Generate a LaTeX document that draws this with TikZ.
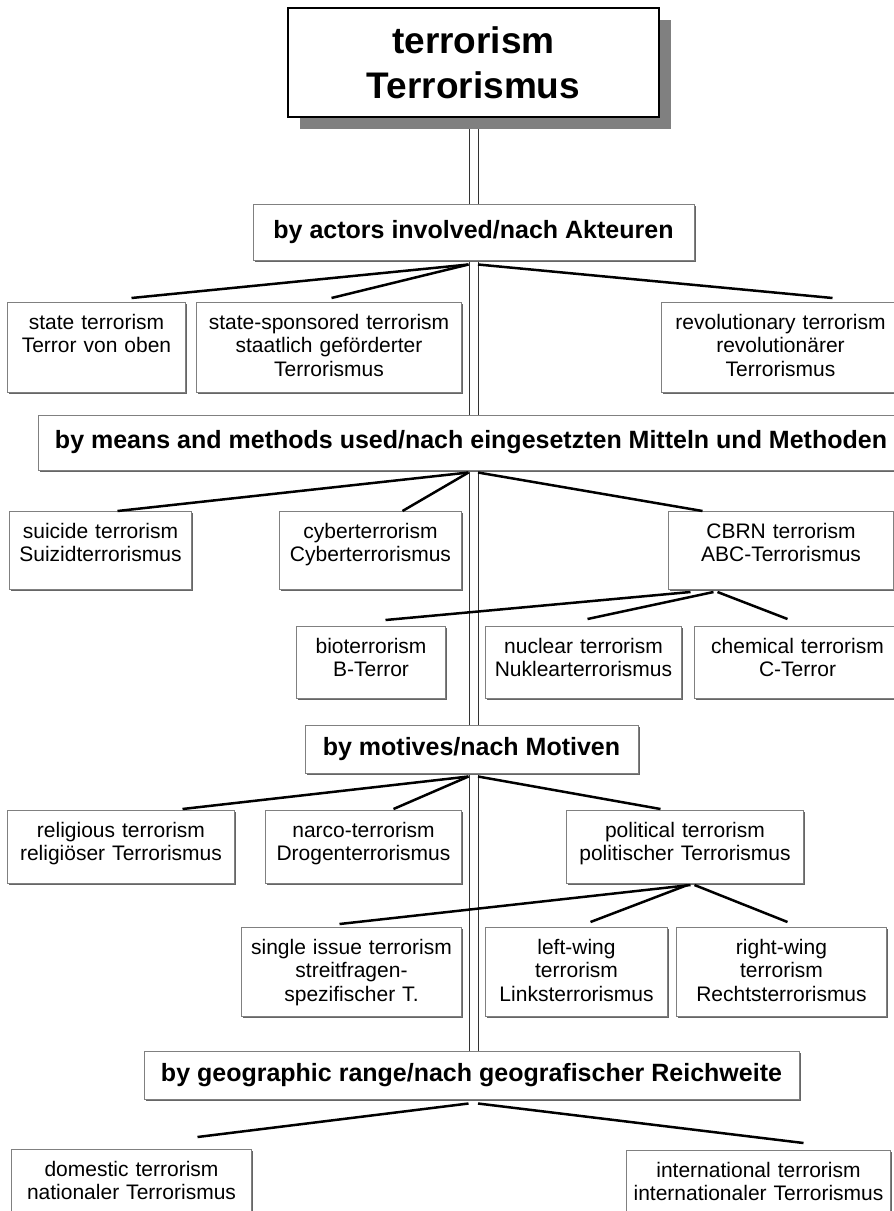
\documentclass[tikz,border=0pt]{standalone}
\usepackage{fontspec}
\setmainfont{Liberation Sans}
\usetikzlibrary{shadows,backgrounds,calc}
\newcommand{\leaffont}{\fontsize{21}{23.3}\selectfont}
\newcommand{\headfont}{\fontsize{25}{30}\selectfont\bfseries}
\newcommand{\rootfont}{\fontsize{37}{45}\selectfont\bfseries}

\begin{document}
\begin{tikzpicture}[x=1pt, y=-1pt,
      box/.style={draw=black!50, line width=1pt, fill=white,
        drop shadow={shadow xshift=1.5pt, shadow yshift=-1.5pt, fill=black!60, opacity=1}},
      head/.style={box, font=\headfont, inner sep=0pt},
      leaf/.style 2 args={box, font=\leaffont, anchor=north west, align=center, inner sep=0pt,
        text width=#1, minimum width=#1, text height=27pt, text depth=#2},
      link/.style={line width=2.5pt},
      spine/.style={draw=black!80, line width=1pt, double distance=8pt}]
    \tikzstyle{rootbox} = [draw=black, line width=2.5pt, fill=white, font=\rootfont, align=center,
      minimum width=371pt, minimum height=109pt,
      drop shadow={shadow xshift=12pt, shadow yshift=-12pt, fill=black!50, opacity=1}]
    \useasboundingbox (0,0) rectangle (894,1211);

    \node (root) [rootbox] at (473.5,62.5) {terrorism\\Terrorismus};
    \coordinate (spL) at ([xshift=-5pt]root.south);
    \coordinate (spR) at ([xshift=4.5pt]root.south);

    % by actors
    \node (actors) [head, minimum width=441pt, minimum height=56pt] at (473.5,232) {by actors involved/nach Akteuren};
    \node (st)  [leaf={178pt}{63pt}] at (7,302)   {state terrorism\\Terror von oben};
    \node (ss)  [leaf={265pt}{63pt}] at (196,302) {state-sponsored terrorism\\staatlich gef\"orderter\\Terrorismus};
    \node (rev) [leaf={238pt}{63pt}] at (661,302) {revolutionary terrorism\\revolution\"arer\\Terrorismus};

    % by means and methods
    \node (means) [head, minimum width=866pt, minimum height=55pt] at (471,442.5) {by means and methods used/nach eingesetzten Mitteln und Methoden};
    \node (sui)  [leaf={182pt}{51pt}] at (9,511)   {suicide terrorism\\Suizidterrorismus};
    \node (cyb)  [leaf={182pt}{51pt}] at (279,511) {cyberterrorism\\Cyberterrorismus};
    \node (cbrn) [leaf={225pt}{51pt}] at (668,511) {CBRN terrorism\\ABC-Terrorismus};
    \node (bio)  [leaf={149pt}{45pt}] at (296,626) {bioterrorism\\B-Terror};
    \node (nuc)  [leaf={196pt}{45pt}] at (485,626) {nuclear terrorism\\Nuklearterrorismus};
    \node (chem) [leaf={206pt}{45pt}] at (694,626) {chemical terrorism\\C-Terror};

    % by motives
    \node (motives) [head, minimum width=333pt, minimum height=48pt] at (471.5,749) {by motives/nach Motiven};
    \node (rel) [leaf={227pt}{46pt}] at (7,810)   {religious terrorism\\religi\"oser Terrorismus};
    \node (nar) [leaf={196pt}{46pt}] at (265,810) {narco-terrorism\\Drogenterrorismus};
    \node (pol) [leaf={237pt}{46pt}] at (566,810) {political terrorism\\politischer Terrorismus};
    \node (sin) [leaf={220pt}{62pt}] at (241,927) {single issue terrorism\\streitfragen-\\spezifischer T.};
    \node (lw)  [leaf={182pt}{62pt}] at (485,927) {left-wing\\terrorism\\Linksterrorismus};
    \node (rw)  [leaf={210pt}{62pt}] at (676,927) {right-wing\\terrorism\\Rechtsterrorismus};

    % by geographic range
    \node (geo) [head, minimum width=655pt, minimum height=48pt] at (471.5,1075) {by geographic range/nach geografischer Reichweite};
    \node (dom) [leaf={240pt}{53pt}] at (11,1149)  {domestic terrorism\\nationaler Terrorismus};
    \node (int) [leaf={264pt}{53pt}] at (626,1150) {international terrorism\\internationaler Terrorismus};

    \begin{scope}[on background layer]
      \draw[spine] (root.south) -- (root.south |- geo.north);
    \end{scope}

    \draw[link] ($(spL |- actors.south)+(0,4)$) -- ([xshift=35pt,yshift=4pt]st.north);
    \draw[link] ($(spL |- actors.south)+(0,4)$) -- ([xshift=2.5pt,yshift=4pt]ss.north);
    \draw[link] ($(spR |- actors.south)+(0,4)$) -- ([xshift=52pt,yshift=4pt]rev.north);

    \draw[link] ($(spL |- means.south)+(0,2)$) -- ([xshift=17pt]sui.north);
    \draw[link] ($(spL |- means.south)+(0,2)$) -- ([xshift=32pt]cyb.north);
    \draw[link] ($(spR |- means.south)+(0,2)$) -- ([xshift=-78.5pt]cbrn.north);
    \draw[link] ([xshift=-90.5pt,yshift=-2pt]cbrn.south) -- ([xshift=14.5pt,yshift=6pt]bio.north);
    \draw[link] ([xshift=-67.5pt,yshift=-2pt]cbrn.south) -- ([xshift=4pt,yshift=7pt]nuc.north);
    \draw[link] ([xshift=-63.5pt,yshift=-2pt]cbrn.south) -- ([xshift=-10pt,yshift=7pt]chem.north);

    \draw[link] ($(spL |- motives.south)+(0,3)$) -- ([xshift=61.5pt,yshift=1pt]rel.north);
    \draw[link] ($(spL |- motives.south)+(0,3)$) -- ([xshift=30pt,yshift=1pt]nar.north);
    \draw[link] ($(spR |- motives.south)+(0,3)$) -- ([xshift=-24.5pt,yshift=1pt]pol.north);
    \draw[link] ([xshift=5.5pt,yshift=-1pt]pol.south) -- ([xshift=-12pt,yshift=3pt]sin.north);
    \draw[link] ([xshift=2.5pt,yshift=-1pt]pol.south) -- ([xshift=14pt,yshift=5pt]lw.north);
    \draw[link] ([xshift=9.5pt,yshift=-1pt]pol.south) -- ([xshift=6pt,yshift=5pt]rw.north);

    \draw[link] ($(spL |- geo.south)+(0,4)$) -- ([xshift=66pt,yshift=12pt]dom.north);
    \draw[link] ($(spR |- geo.south)+(0,4)$) -- ([xshift=45pt,yshift=7pt]int.north);
\end{tikzpicture}
\end{document}
